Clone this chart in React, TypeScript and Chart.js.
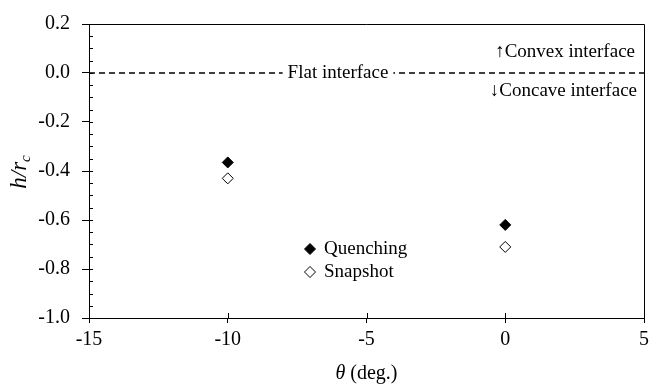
import React, { useEffect, useRef } from "react";
import { Chart, registerables } from "chart.js";

Chart.register(...registerables);

const quenchingTheta = [-10, 0];
const quenchingH = [-0.365, -0.62];
const snapshotTheta = [-10, 0];
const snapshotH = [-0.43, -0.71];
const flatTheta = [-15, 5];
const flatH = [0, 0];
const xTicks = [-15, -10, -5, 0, 5];
const yTicks = [-1.0, -0.8, -0.6, -0.4, -0.2, 0.0, 0.2];
const legendLabels = ["Quenching", "Snapshot"];

const FONT = "'Liberation Serif', 'Times New Roman', serif";

const overlay = {
  id: "overlay",
  afterDatasetsDraw(chart: any) {
    const { ctx, chartArea: a, scales } = chart;
    const xs = scales.x;
    const ys = scales.y;
    ctx.save();
    // box top/right
    ctx.strokeStyle = "#000";
    ctx.lineWidth = 1;
    ctx.beginPath();
    ctx.moveTo(a.left, a.top + 0.5);
    ctx.lineTo(a.right + 0.5, a.top + 0.5);
    ctx.lineTo(a.right + 0.5, a.bottom);
    ctx.stroke();
    // y minor ticks inside
    ctx.beginPath();
    for (let v = -1.0; v <= 0.2001; v += 0.05) {
      const y = Math.round(ys.getPixelForValue(v)) + 0.5;
      ctx.moveTo(a.left, y);
      ctx.lineTo(a.left + 4, y);
    }
    // x major ticks inward part
    for (const t of xTicks) {
      const x = Math.round(xs.getPixelForValue(t)) + 0.5;
      ctx.moveTo(x, a.bottom);
      ctx.lineTo(x, a.bottom - 5);
    }
    ctx.stroke();

    // annotations
    const y0 = ys.getPixelForValue(0);
    ctx.font = `19px ${FONT}`;
    ctx.textBaseline = "middle";
    const flat = "Flat interface";
    const fw = ctx.measureText(flat).width;
    const fcx = 338;
    ctx.fillStyle = "#fff";
    ctx.fillRect(fcx - fw / 2 - 5, y0 - 8, fw + 10, 16);
    ctx.fillStyle = "#000";
    ctx.textAlign = "center";
    ctx.fillText(flat, fcx, y0);
    ctx.textAlign = "right";
    ctx.fillText("\u2191Convex interface", a.right - 9, y0 - 21);
    ctx.fillText("\u2193Concave interface", a.right - 7, y0 + 18);

    // legend
    const ds = chart.data.datasets;
    const lx = 310;
    const lys = [249, 272];
    [0, 1].forEach((i) => {
      const d = ds[i];
      const ly = lys[i];
      const r = 5.5;
      ctx.beginPath();
      ctx.moveTo(lx, ly - r);
      ctx.lineTo(lx + r, ly);
      ctx.lineTo(lx, ly + r);
      ctx.lineTo(lx - r, ly);
      ctx.closePath();
      ctx.fillStyle = d.pointBackgroundColor;
      ctx.fill();
      ctx.strokeStyle = "#000";
      ctx.lineWidth = 1;
      ctx.stroke();
      ctx.fillStyle = "#000";
      ctx.textAlign = "left";
      ctx.fillText(legendLabels[i], lx + 14, ly);
    });

    // axis titles
    ctx.fillStyle = "#000";
    ctx.textBaseline = "alphabetic";
    // x title
    ctx.font = `italic 20px ${FONT}`;
    const th = "\u03b8";
    const thw = ctx.measureText(th).width;
    ctx.font = `20px ${FONT}`;
    const rest = " (deg.)";
    const rw = ctx.measureText(rest).width;
    const cx = (a.left + a.right) / 2;
    const sx = cx - (thw + rw) / 2;
    const ty = 379;
    ctx.font = `italic 20px ${FONT}`;
    ctx.textAlign = "left";
    ctx.fillText(th, sx, ty);
    ctx.font = `20px ${FONT}`;
    ctx.fillText(rest, sx + thw, ty);
    // y title
    ctx.translate(26, 172);
    ctx.rotate(-Math.PI / 2);
    ctx.font = `italic 23px ${FONT}`;
    const main = "h/r";
    const mw = ctx.measureText(main).width;
    ctx.font = `italic 15px ${FONT}`;
    const sw = ctx.measureText("c").width;
    const start = -(mw + sw) / 2;
    ctx.font = `italic 23px ${FONT}`;
    ctx.fillText(main, start, 0);
    ctx.font = `italic 15px ${FONT}`;
    ctx.fillText("c", start + mw, 4);
    ctx.restore();
  },
};

export default function App() {
  const ref = useRef<HTMLCanvasElement>(null);
  useEffect(() => {
    if (!ref.current) return;
    const chart = new Chart(ref.current, {
      type: "scatter",
      data: {
        datasets: [
          {
            label: legendLabels[0],
            data: quenchingTheta.map((x, i) => ({ x, y: quenchingH[i] })),
            pointStyle: "rectRot",
            pointRadius: 5.5,
            pointBackgroundColor: "#000",
            pointBorderColor: "#000",
            pointBorderWidth: 1,
          } as any,
          {
            label: legendLabels[1],
            data: snapshotTheta.map((x, i) => ({ x, y: snapshotH[i] })),
            pointStyle: "rectRot",
            pointRadius: 5.5,
            pointBackgroundColor: "#fff",
            pointBorderColor: "#000",
            pointBorderWidth: 1,
          } as any,
          {
            type: "line",
            label: "Flat",
            data: flatTheta.map((x, i) => ({ x, y: flatH[i] })),
            borderColor: "#000",
            borderWidth: 1.4,
            borderDash: [6, 4],
            pointRadius: 0,
            showLine: true,
          } as any,
        ],
      },
      options: {
        responsive: false,
        animation: false,
        layout: { padding: { top: 20, right: 6, left: 0, bottom: 0 } },
        plugins: { legend: { display: false }, tooltip: { enabled: false } },
        scales: {
          x: {
            type: "linear",
            min: -15,
            max: 5,
            afterFit(s: any) {
              s.height = 67;
            },
            afterBuildTicks(s: any) {
              s.ticks = xTicks.map((v) => ({ value: v }));
            },
            ticks: {
              color: "#000",
              font: { family: FONT, size: 20 },
              padding: 5,
              maxRotation: 0,
              callback: (v: any) => String(v),
            },
            grid: { drawOnChartArea: false, tickLength: 5, color: "#000" },
            border: { color: "#000", width: 1 },
          },
          y: {
            type: "linear",
            min: -1,
            max: 0.2,
            afterFit(s: any) {
              s.width = 89;
            },
            afterBuildTicks(s: any) {
              s.ticks = yTicks.map((v) => ({ value: v }));
            },
            ticks: {
              color: "#000",
              font: { family: FONT, size: 20 },
              padding: 12,
              callback: (v: any) => Number(v).toFixed(1),
            },
            grid: { drawOnChartArea: false, tickLength: 7, color: "#000" },
            border: { color: "#000", width: 1 },
          },
        },
      },
      plugins: [overlay],
    });
    return () => chart.destroy();
  }, []);
  return (
    <div style={{ position: "fixed", left: 0, top: 0, width: 654, height: 385, background: "#fff" }}>
      <canvas ref={ref} width={654} height={385} style={{ display: "block" }} />
    </div>
  );
}
